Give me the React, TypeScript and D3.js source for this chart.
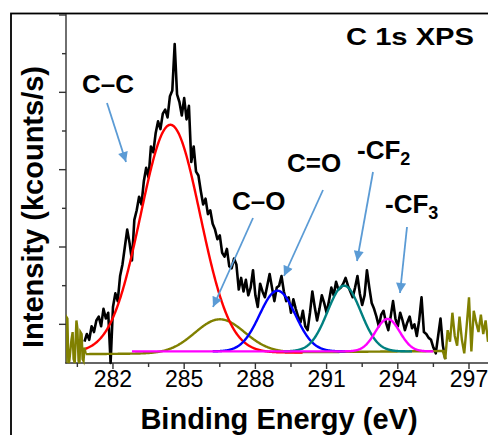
import React from "react";
import * as d3 from "d3";

const W = 488;
const H = 435;

// Measured C 1s spectrum (kcounts/s, arbitrary scale), sampled every 0.1 eV from 280.8 eV
const dataStart = 280.8;
const dataStep = 0.1;
const intensity = [
  0.55, 0.75, 0.6, 0.95, 0.8, 1.1, 1.2, 0.95, 1.4, 1.15, 1.3, 0.0,
  1.45, 1.8, 1.6, 2.25, 2.55, 3.0, 3.45, 3.1, 2.65, 3.7,
  3.95, 4.3, 4.1, 4.7, 5.05, 4.8, 5.6, 5.45, 5.95, 6.25,
  6.05, 6.45, 6.55, 6.35, 6.9, 7.05, 8.25, 6.95, 6.75, 6.4,
  6.85, 6.3, 6.65, 5.2, 5.6, 4.95, 4.85, 4.45, 4.1, 4.25,
  3.85, 3.95, 3.6, 3.45, 3.2, 3.3, 2.85, 2.75, 2.95, 2.5,
  2.45, 2.7, 2.55, 1.9, 2.2, 1.85, 2.15, 1.75, 1.95, 2.4,
  1.75, 1.45, 2.05, 1.85, 1.7, 2.0, 2.3, 1.95, 1.6, 1.95,
  2.0, 2.25, 1.85, 1.6, 1.7, 1.3, 1.65, 1.4, 1.2, 1.05,
  1.35, 0.95, 0.85, 1.3, 1.85, 1.45, 1.1, 1.4, 1.75, 1.55,
  1.3, 1.6, 1.95, 1.75, 2.1, 1.9, 1.95, 2.05, 2.2, 2.0,
  1.85, 1.7, 1.95, 2.25, 1.8, 1.5, 1.75, 2.4, 1.95, 1.55,
  1.4, 1.2, 0.95, 1.25, 1.35, 1.05, 0.85, 1.2, 1.6, 1.15,
  0.95, 1.3, 1.1, 0.85, 1.05, 1.2, 0.9, 1.0, 0.7, 1.1,
  1.7, 0.8, 0.75, 0.65, 0.6, 0.4, 0.25, 0.7, 1.15, 0.45,
  0.1,
];

// Olive (outside fitting window) noisy segments
const leftNoiseE = [280.0, 280.04, 280.08, 280.12, 280.16, 280.25, 280.3, 280.34, 280.39, 280.46, 280.5, 280.55, 280.59, 280.63, 280.68, 280.72, 280.76, 280.8, 280.85];
const leftNoiseI = [0.0, 1.19, 1.15, 0.0, 0.05, 0.6, 0.8, 0.1, 0.0, 1.1, 0.9, 0.05, 0.0, 0.8, 0.75, 0.1, 0.05, 0.4, 0.24];
const rightNoiseE = [295.9, 296.0, 296.1, 296.2, 296.3, 296.4, 296.5, 296.6, 296.7, 296.8, 296.9, 297.0, 297.1, 297.2, 297.3, 297.4, 297.5, 297.6, 297.7, 297.8, 297.9];
const rightNoiseI = [0.3, 0.1, 0.85, 0.55, 1.3, 0.7, 0.45, 1.2, 0.6, 0.25, 0.95, 1.7, 0.3, 1.35, 1.05, 0.8, 1.25, 0.75, 1.1, 0.55, 0.9];

// Fitted Gaussian components (drawn in this order)
const compNames = ["C–O", "C–C", "C=O", "-CF2", "-CF3"];
const compCenters = [286.5, 284.42, 288.93, 291.74, 293.57];
const compAmps = [0.87, 5.89, 1.57, 1.7, 0.84];
const compSigmas = [1.05, 1.25, 0.75, 0.7, 0.51];
const compBaseStart = [0.23, 0.27, 0.3, 0.3, 0.3];
const compBaseEnd = [0.31, 0.27, 0.3, 0.3, 0.3];
const compFrom = [280.85, 280.85, 286.2, 289.2, 282.8];
const compTo = [296.0, 290.0, 291.8, 294.6, 295.5];
const compColors = ["#808000", "#ff0000", "#0000ff", "#008080", "#ff00ff"];

const xMajorTicks = [282, 285, 288, 291, 294, 297];
const xMinorTicks = [280.5, 283.5, 286.5, 289.5, 292.5, 295.5];
const yMajorTicks = [1, 3, 5, 7, 9];
const yMinorTicks = [2, 4, 6, 8];

const FONT = "'Liberation Sans', Arial, Helvetica, sans-serif";
const ARROW = "#5b9bd5";

export default function App() {
  const x = d3.scaleLinear().domain([280, 297]).range([65.5, 469]);
  const y = d3.scaleLinear().domain([0, 9]).range([363, 15]);
  const line = d3
    .line<[number, number]>()
    .x((d) => x(d[0]))
    .y((d) => y(d[1]));

  const dataPts: [number, number][] = intensity.map((v, i) => [dataStart + i * dataStep, v]);
  const leftPts: [number, number][] = leftNoiseE.map((e, i) => [e, leftNoiseI[i]]);
  const rightPts: [number, number][] = rightNoiseE.map((e, i) => [e, rightNoiseI[i]]);

  const comps = compNames.map((n, k) => {
    const grid = d3.range(compFrom[k], compTo[k] + 0.001, 0.02);
    const span = compTo[k] - compFrom[k];
    return {
      name: n,
      color: compColors[k],
      pts: grid.map((e) => {
        const b = compBaseStart[k] + ((compBaseEnd[k] - compBaseStart[k]) * (e - compFrom[k])) / span;
        return [
          e,
          b + compAmps[k] * Math.exp(-((e - compCenters[k]) ** 2) / (2 * compSigmas[k] ** 2)),
        ];
      }) as [number, number][],
    };
  });

  const arrows = [
    { x1: 107, y1: 103, x2: 126, y2: 162 },
    { x1: 253, y1: 218, x2: 213, y2: 307 },
    { x1: 323, y1: 190, x2: 284, y2: 276 },
    { x1: 373, y1: 172, x2: 357, y2: 261 },
    { x1: 407, y1: 227, x2: 400, y2: 293 },
  ];

  const labelStyle = { fontFamily: FONT, fontWeight: 700, fontSize: 26, fill: "#000" } as const;

  return (
    <div style={{ position: "fixed", left: 0, top: 0, width: W, height: H, background: "#fff" }}>
      <svg width={W} height={H} viewBox={`0 0 ${W} ${H}`}>
        <defs>
          <marker
            id="ah"
            viewBox="0 0 10 10"
            refX="10"
            refY="5"
            markerWidth="11"
            markerHeight="10"
            markerUnits="userSpaceOnUse"
            orient="auto"
          >
            <path d="M0,0 L10,5 L0,10 z" fill={ARROW} />
          </marker>
          <clipPath id="plotClip">
            <rect x={66} y={14} width={430} height={360} />
          </clipPath>
        </defs>
        <rect x={0} y={0} width={W} height={H} fill="#fff" />
        {/* outer frame */}
        <rect x={11} y={13.5} width={520} height={500} fill="none" stroke="#000" strokeWidth={1.8} />

        {/* axes */}
        <line x1={66} y1={14} x2={66} y2={363.5} stroke="#333" strokeWidth={1.4} />
        <line x1={65.3} y1={363} x2={W} y2={363} stroke="#333" strokeWidth={1.4} />
        {yMajorTicks.map((t) => (
          <line key={"ym" + t} x1={59} x2={66} y1={y(t)} y2={y(t)} stroke="#333" strokeWidth={1.4} />
        ))}
        {yMinorTicks.map((t) => (
          <line key={"yn" + t} x1={62} x2={66} y1={y(t)} y2={y(t)} stroke="#333" strokeWidth={1.4} />
        ))}
        {xMajorTicks.map((t) => (
          <line key={"xm" + t} x1={x(t)} x2={x(t)} y1={363} y2={369} stroke="#333" strokeWidth={1.4} />
        ))}
        {xMinorTicks.map((t) => (
          <line key={"xn" + t} x1={x(t)} x2={x(t)} y1={363} y2={367} stroke="#333" strokeWidth={1.4} />
        ))}
        {xMajorTicks.map((t) => (
          <text
            key={"xl" + t}
            x={x(t)}
            y={387}
            textAnchor="middle"
            fontFamily={FONT}
            fontSize={23}
            fill="#000"
          >
            {t}
          </text>
        ))}

        {/* spectrum */}
        <g clipPath="url(#plotClip)">
          <path d={line(dataPts) || ""} fill="none" stroke="#000" strokeWidth={2.6} strokeLinejoin="round" />
          <path d={line(leftPts) || ""} fill="none" stroke="#808000" strokeWidth={2.4} />
          <path d={line(rightPts) || ""} fill="none" stroke="#808000" strokeWidth={2.4} />
          {comps.map((c) => (
            <path key={c.name} d={line(c.pts) || ""} fill="none" stroke={c.color} strokeWidth={2.4} />
          ))}
        </g>

        {/* annotations */}
        {arrows.map((a, i) => (
          <line
            key={"ar" + i}
            x1={a.x1}
            y1={a.y1}
            x2={a.x2}
            y2={a.y2}
            stroke={ARROW}
            strokeWidth={1.8}
            markerEnd="url(#ah)"
          />
        ))}
        <text x={82} y={93} {...labelStyle}>C–C</text>
        <text x={232} y={210} {...labelStyle}>C–O</text>
        <text x={287} y={172} {...labelStyle}>C=O</text>
        <text x={357} y={159} {...labelStyle}>
          -CF<tspan fontSize={18} dy={6}>2</tspan>
        </text>
        <text x={385} y={213} {...labelStyle}>
          -CF<tspan fontSize={18} dy={6}>3</tspan>
        </text>

        <text
          x={346}
          y={45}
          fontFamily={FONT}
          fontWeight={700}
          fontSize={24}
          textLength={128}
          lengthAdjust="spacingAndGlyphs"
          fill="#000"
        >
          C 1s XPS
        </text>

        {/* axis titles */}
        <text
          x={279}
          y={429}
          textAnchor="middle"
          fontFamily={FONT}
          fontWeight={700}
          fontSize={29}
          fill="#000"
        >
          Binding Energy (eV)
        </text>
        <text
          transform={`translate(43,207) rotate(-90)`}
          textAnchor="middle"
          fontFamily={FONT}
          fontWeight={700}
          fontSize={29}
          fill="#000"
        >
          Intensity (kcounts/s)
        </text>
      </svg>
    </div>
  );
}
